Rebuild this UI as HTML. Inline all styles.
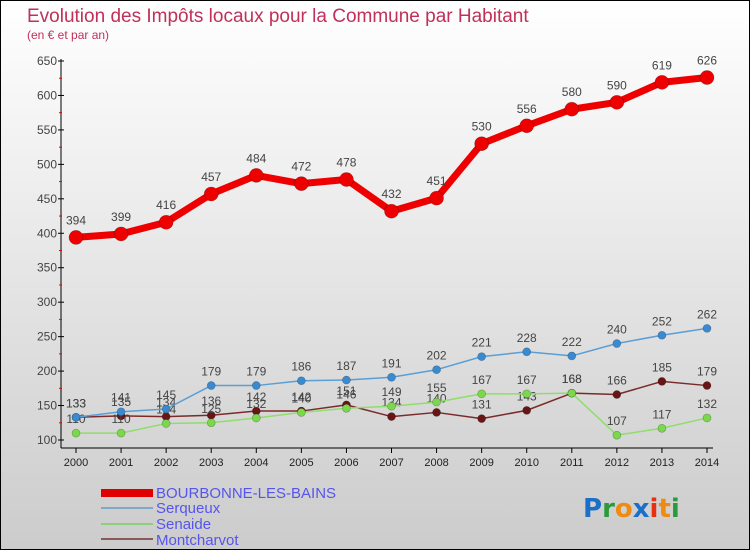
<!DOCTYPE html>
<html><head><meta charset="utf-8"><style>
html,body{margin:0;padding:0}
body{width:750px;height:550px;overflow:hidden;font-family:"Liberation Sans",sans-serif}
#wrap{position:relative;width:748px;height:548px;border:1px solid #000;background:linear-gradient(#ffffff 0%,#f0f0f0 30%,#d8d8d8 75%,#cccccc 100%)}
</style></head><body>
<div id="wrap">
<svg id="chart" width="748" height="548" style="position:absolute;left:0;top:0">
<text x="26" y="21" font-size="19" fill="#c0305a">Evolution des Impôts locaux pour la Commune par Habitant</text>
<text x="26" y="38" font-size="12" fill="#c0305a">(en € et par an)</text>
<g id="axes"></g><g id="series"></g>
<g>
<rect x="100" y="488" width="52" height="8" fill="#e00000"/>
<text x="155" y="497" font-size="15" fill="#5555ee">BOURBONNE-LES-BAINS</text>
<rect x="100" y="506" width="52" height="2" fill="#7fa8c8"/>
<text x="155" y="512" font-size="15" fill="#5555ee">Serqueux</text>
<rect x="100" y="522" width="52" height="2" fill="#8ed07a"/>
<text x="155" y="528" font-size="15" fill="#5555ee">Senaide</text>
<rect x="100" y="537" width="52" height="2" fill="#8a5a5a"/>
<text x="155" y="544" font-size="15" fill="#5555ee">Montcharvot</text>
</g>
<g font-size="26" font-weight="bold" font-family="'DejaVu Sans',sans-serif">
<text x="582" y="516"><tspan fill="#1a6fc8">P</tspan><tspan fill="#2a9a3a">r</tspan><tspan fill="#f08a10">o</tspan><tspan fill="#1a6fc8">x</tspan><tspan fill="#e83010">i</tspan><tspan fill="#f08a10">t</tspan><tspan fill="#2a9a3a">i</tspan></text>
</g>
</svg>
</div>
<script>
const years=[2000,2001,2002,2003,2004,2005,2006,2007,2008,2009,2010,2011,2012,2013,2014];
const bourbonne=[394,399,416,457,484,472,478,432,451,530,556,580,590,619,626];
const serqueux=[133,141,145,179,179,186,187,191,202,221,228,222,240,252,262];
const senaide=[110,110,124,125,132,140,146,149,155,167,167,168,107,117,132];
const montcharvot=[133,135,134,136,142,142,151,134,140,131,143,168,166,185,179];
const yTicks=[100,150,200,250,300,350,400,450,500,550,600,650];
const NS="http://www.w3.org/2000/svg";
function X(i){return 75+i*(706-75)/(years.length-1);}
function Y(v){return 439-(v-100)*(439-60)/550;}
function mk(tag,attrs,parent){const e=document.createElementNS(NS,tag);for(const k in attrs)e.setAttribute(k,attrs[k]);parent.appendChild(e);return e;}
const axes=document.getElementById('axes');
let a=mk('line',{x1:60,y1:58,x2:60,y2:447,stroke:'#000'},axes);


a=mk('line',{x1:60,y1:447,x2:712,y2:447,stroke:'#000'},axes);


yTicks.forEach((t,i)=>{
  const y=Y(t);
  mk('line',{x1:57,y1:y,x2:63,y2:y,stroke:'#000'},axes);
  if(i<yTicks.length-1) mk('line',{x1:58,y1:Y(t+25),x2:61,y2:Y(t+25),stroke:'#e00'},axes);
  const tx=mk('text',{x:56,y:y+4,'font-size':12,fill:'#444','text-anchor':'end'},axes);
  tx.textContent=t;
  
  
});
years.forEach((yr,i)=>{
  const x=X(i);
  mk('line',{x1:x,y1:447,x2:x,y2:452,stroke:'#000'},axes);
  const tx=mk('text',{x:x,y:465,'font-size':11,fill:'#222','text-anchor':'middle'},axes);
  tx.textContent=yr;
  
  
});
const sg=document.getElementById('series');
function series(name,vals,color,w,r,fill){
  const g=mk('g',{},sg);
  
  
  const pts=vals.map((v,i)=>X(i)+','+Y(v)).join(' ');
  mk('polyline',{points:pts,fill:'none',stroke:color,'stroke-width':w,'stroke-linejoin':'round'},g);
  vals.forEach((v,i)=>{
    const c=mk('circle',{cx:X(i),cy:Y(v),r:r,fill:fill,stroke:'rgba(0,0,0,0.3)','stroke-width':0.6},g);
    
    
    const t=mk('text',{x:X(i),y:Y(v)-(r+6),'font-size':12,fill:'#444','text-anchor':'middle'},g);
    t.textContent=v;
    
    
  });
}
series('montcharvot',montcharvot,'#7a2a2a',1.5,4,'#6a1515');
series('senaide',senaide,'#8ede6a',1.5,4,'#7ad84a');
series('serqueux',serqueux,'#5a9ed6',1.5,4,'#3a8ad0');
series('bourbonne',bourbonne,'#ee0000',7,7,'#ee0000');
</script>
</body></html>
